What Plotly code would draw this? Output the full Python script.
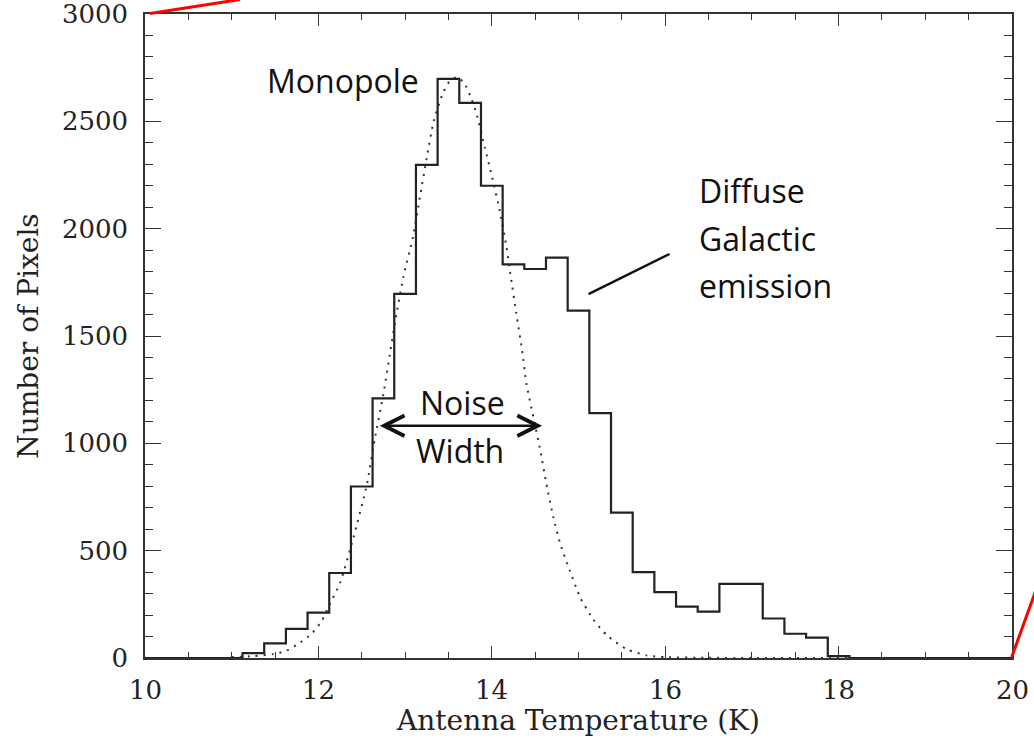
import plotly.graph_objects as go

# ---------------- data ----------------
# histogram: bin centres (K) and pixel counts (bin width 0.25 K)
bin_centers = [10.0, 11.0, 11.25, 11.5, 11.75, 12.0, 12.25, 12.5, 12.75, 13.0,
               13.25, 13.5, 13.75, 14.0, 14.25, 14.5, 14.75, 15.0, 15.25,
               15.5, 15.75, 16.0, 16.25, 16.5, 16.75, 17.0, 17.25, 17.5,
               17.75, 18.0, 18.25, 20.0]
pixel_counts = [0, 0, 23, 68, 136, 211, 396, 799, 1209, 1696,
                2297, 2698, 2586, 2200, 1834, 1812, 1865, 1618, 1141,
                677, 400, 307, 239, 216, 345, 345, 184, 113,
                95, 9, 0, 0]

# dotted monopole (noise) curve
curve_temp = [11.0, 11.25, 11.48, 11.63, 11.79, 11.92, 12.04, 12.13, 12.25,
              12.40, 12.56, 12.65, 12.75, 12.83, 12.90, 12.98, 13.09, 13.17,
              13.25, 13.33, 13.44, 13.52, 13.60, 13.68, 13.76, 13.83, 13.92,
              14.00, 14.10, 14.17, 14.21, 14.29, 14.35, 14.40, 14.48, 14.56,
              14.63, 14.71, 14.79, 14.90, 15.02, 15.17, 15.33, 15.56, 15.79,
              16.0, 16.5, 17.0, 18.1]
curve_count = [4, 9, 18, 34, 72, 112, 174, 250, 350,
               555, 810, 1020, 1230, 1430, 1600, 1775, 1960, 2145,
               2330, 2500, 2635, 2690, 2705, 2680, 2610, 2526, 2378,
               2246, 2068, 1912, 1800, 1586, 1431, 1276, 1121, 966,
               810, 655, 531, 407, 282, 180, 105, 40, 12,
               4, 1, 0, 0]

x_ticks = [10, 12, 14, 16, 18, 20]
y_ticks = [0, 500, 1000, 1500, 2000, 2500, 3000]

# ---------------- layout constants ----------------
W, H = 1034, 741
ML, MR, MT, MB = 145, 22, 14, 83
PW, PH = W - ML - MR, H - MT - MB

def px_to_paper(px, py):
    return (px - ML) / PW, (H - MB - py) / PH

serif = "DejaVu Serif"
sans = "Open Sans"
ink = "#222222"
axc = "#333333"

fig = go.Figure()

fig.add_trace(go.Scatter(
    x=curve_temp, y=curve_count, mode="lines",
    line=dict(color=axc, width=2, dash="2px,6px", shape="spline", smoothing=0.6),
    hoverinfo="skip", showlegend=False))

fig.add_trace(go.Scatter(
    x=bin_centers, y=pixel_counts, mode="lines",
    line=dict(color=ink, width=2.2, shape="hvh"),
    showlegend=False))

tick_font = dict(family=serif, size=26, color=ink)
title_font = dict(family=serif, size=28, color=ink)

fig.update_layout(
    xaxis=dict(
        range=[10, 20], tickvals=x_ticks, showticklabels=False,
        showgrid=False, zeroline=False, showline=True, linecolor=axc, linewidth=1.5,
        mirror="ticks", ticks="inside", ticklen=12, tickcolor=axc, tickwidth=1.3,
        minor=dict(dtick=0.5, ticks="inside", ticklen=6, tickcolor=axc, tickwidth=1.2),
        automargin=False,
        title=dict(text="Antenna Temperature (K)", font=title_font, standoff=52),
    ),
    yaxis=dict(
        range=[0, 3000], tickvals=y_ticks, ticktext=[str(v) for v in y_ticks],
        showgrid=False, zeroline=False, showline=True, linecolor=axc, linewidth=1.5,
        mirror="ticks", ticks="inside", ticklen=16, tickcolor=axc, tickwidth=1.3,
        minor=dict(dtick=100, ticks="inside", ticklen=8, tickcolor=axc, tickwidth=1.2),
        tickfont=tick_font, ticklabeloverflow="allow", ticklabelstandoff=10,
        automargin=False,
        title=dict(text="Number of Pixels", font=title_font, standoff=15),
    ),
)

# x tick labels, placed on the x scale below the axis (IDL-style spacing)
annotations = [
    dict(x=v, y=0, xref="x", yref="paper", text=str(v), showarrow=False,
         font=tick_font, xanchor="center", yanchor="middle", yshift=-32)
    for v in x_ticks
]

ann_font = dict(family=sans, size=32, color="#111111")
annotations += [
    dict(x=12.285, y=2689, text="Monopole", showarrow=False, font=ann_font,
         xanchor="center", yanchor="middle"),
    dict(x=16.37, y=2177, text="Diffuse", showarrow=False, font=ann_font,
         xanchor="left", yanchor="middle"),
    dict(x=16.37, y=1954, text="Galactic", showarrow=False, font=ann_font,
         xanchor="left", yanchor="middle"),
    dict(x=16.37, y=1735, text="emission", showarrow=False, font=ann_font,
         xanchor="left", yanchor="middle"),
    dict(x=13.66, y=1190, text="Noise", showarrow=False, font=ann_font,
         xanchor="center", yanchor="middle"),
    dict(x=13.63, y=968, text="Width", showarrow=False, font=ann_font,
         xanchor="center", yanchor="middle"),
    # double-headed noise-width arrow
    dict(x=14.58, y=1082, ax=12.69, ay=1082, axref="x", ayref="y", xref="x", yref="y",
         text="", showarrow=True, arrowside="end+start", arrowhead=5, startarrowhead=5,
         arrowsize=1.6, startarrowsize=1.6, arrowwidth=2.5, arrowcolor="#111111",
         standoff=0, startstandoff=0),
]

shapes = [
    # pointer line to "Diffuse Galactic emission"
    dict(type="line", xref="x", yref="y", x0=15.115, y0=1695, x1=16.05, y1=1882,
         line=dict(color="#111111", width=2.5)),
]
# red zoom guide lines at the corners (decoration)
for (ax0, ay0), (ax1, ay1) in [((150, 13.5), (240, -0.5)), ((1011.7, 657), (1036, 590))]:
    p0 = px_to_paper(ax0, ay0)
    p1 = px_to_paper(ax1, ay1)
    shapes.append(dict(type="line", xref="paper", yref="paper",
                       x0=p0[0], y0=p0[1], x1=p1[0], y1=p1[1],
                       line=dict(color="#ff0000", width=3)))

fig.update_layout(
    width=W, height=H,
    margin=dict(l=ML, r=MR, t=MT, b=MB, autoexpand=False),
    paper_bgcolor="white", plot_bgcolor="white",
    annotations=annotations, shapes=shapes,
    showlegend=False,
)

fig.write_html("out.html")
